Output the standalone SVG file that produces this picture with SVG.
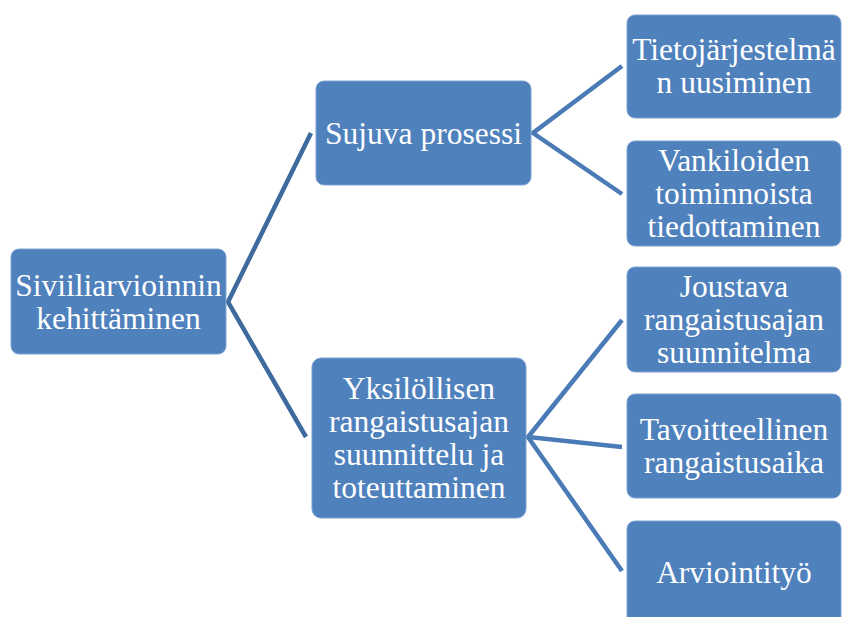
<svg xmlns="http://www.w3.org/2000/svg" width="842" height="617" viewBox="0 0 842 617">
  <style>
    .box { fill: #4F81BD; stroke: #7FA3D1; stroke-width: 1; }
    .lbl { fill: #FFFFFF; font-size: 31.5px; text-anchor: middle; }
    .c1 { fill: none; stroke: #3E6A9E; stroke-width: 4.5; stroke-linejoin: miter; }
    .c2 { fill: none; stroke: #4A7BB6; stroke-width: 4.5; stroke-linejoin: miter; }
  </style>
  <rect width="842" height="617" fill="#FFFFFF"/>

  <!-- connectors -->
  <g id="connectors">
    <polyline class="c1" points="311,133 228,302 306,437"/>
    <polyline class="c2" points="622,66 533,133 622,194"/>
    <polyline class="c2" points="622,320 528,437 622,447"/>
    <line class="c2" x1="528" y1="437" x2="622" y2="571"/>
  </g>

  <g font-family="Liberation Serif, Times New Roman, Times, serif">
  <!-- root -->
  <g id="node-root">
    <rect class="box" x="11" y="249" width="215" height="105" rx="8"/>
    <text class="lbl" x="118.5" y="295.5">Siviiliarvioinnin</text>
    <text class="lbl" x="118.5" y="328.5">kehittäminen</text>
  </g>

  <!-- second level -->
  <g id="node-sujuva">
    <rect class="box" x="316" y="81" width="215" height="104" rx="8"/>
    <text class="lbl" x="423.5" y="143.5">Sujuva prosessi</text>
  </g>
  <g id="node-yksilollisen">
    <rect class="box" x="312" y="358" width="214" height="160" rx="9"/>
    <text class="lbl" x="419" y="398.5">Yksilöllisen</text>
    <text class="lbl" x="419" y="431.5">rangaistusajan</text>
    <text class="lbl" x="419" y="464.5">suunnittelu ja</text>
    <text class="lbl" x="419" y="497.5">toteuttaminen</text>
  </g>

  <!-- third level -->
  <g id="node-tietojarjestelma">
    <rect class="box" x="627" y="15" width="214" height="103" rx="8"/>
    <text class="lbl" x="734" y="60">Tietojärjestelmä</text>
    <text class="lbl" x="734" y="93">n uusiminen</text>
  </g>
  <g id="node-vankiloiden">
    <rect class="box" x="627" y="141" width="214" height="105" rx="8"/>
    <text class="lbl" x="734" y="171">Vankiloiden</text>
    <text class="lbl" x="734" y="204">toiminnoista</text>
    <text class="lbl" x="734" y="237">tiedottaminen</text>
  </g>
  <g id="node-joustava">
    <rect class="box" x="627" y="267" width="214" height="105" rx="8"/>
    <text class="lbl" x="734" y="297">Joustava</text>
    <text class="lbl" x="734" y="330">rangaistusajan</text>
    <text class="lbl" x="734" y="363">suunnitelma</text>
  </g>
  <g id="node-tavoitteellinen">
    <rect class="box" x="627" y="394" width="214" height="104" rx="8"/>
    <text class="lbl" x="734" y="440">Tavoitteellinen</text>
    <text class="lbl" x="734" y="473">rangaistusaika</text>
  </g>
  <g id="node-arviointityo">
    <rect class="box" x="627" y="521" width="214" height="104" rx="8"/>
    <text class="lbl" x="734" y="583">Arviointityö</text>
  </g>
  </g>
</svg>
